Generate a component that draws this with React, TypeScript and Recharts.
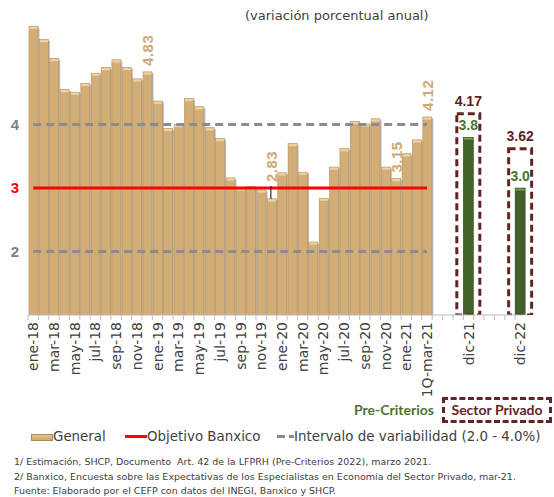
import React from 'react';
import { ComposedChart, Bar, Line, XAxis, YAxis, LabelList } from 'recharts';

// ---------- data ----------
const months = [
  'ene-18', 'feb-18', 'mar-18', 'abr-18', 'may-18', 'jun-18', 'jul-18', 'ago-18', 'sep-18', 'oct-18', 'nov-18', 'dic-18',
  'ene-19', 'feb-19', 'mar-19', 'abr-19', 'may-19', 'jun-19', 'jul-19', 'ago-19', 'sep-19', 'oct-19', 'nov-19', 'dic-19',
  'ene-20', 'feb-20', 'mar-20', 'abr-20', 'may-20', 'jun-20', 'jul-20', 'ago-20', 'sep-20', 'oct-20', 'nov-20', 'dic-20',
  'ene-21', 'feb-21', '1Q-mar-21',
];
const generalValues = [
  5.55, 5.34, 5.04, 4.55, 4.51, 4.65, 4.81, 4.90, 5.02, 4.90, 4.72, 4.83,
  4.37, 3.94, 4.00, 4.41, 4.28, 3.95, 3.78, 3.16, 3.00, 3.02, 2.97, 2.83,
  3.24, 3.70, 3.25, 2.15, 2.84, 3.33, 3.62, 4.05, 4.01, 4.09, 3.33, 3.15,
  3.54, 3.76, 4.12,
];
const labeledMonths = ['dic-18', 'dic-19', 'dic-20', '1Q-mar-21'];
const forecastSlots = ['x1', 'x2', 'x3', 'dic-21', 'x4', 'x5', 'x6', 'x7', 'dic-22'];
const preCriterios: Record<string, number> = { 'dic-21': 3.8, 'dic-22': 3.0 };
const sectorPrivado: Record<string, number> = { 'dic-21': 4.17, 'dic-22': 3.62 };
const objetivoBanxico = 3;
const intervaloSup = 4;
const intervaloInf = 2;
const yTicks = [2, 3, 4];
const tickLabels = [
  'ene-18', 'mar-18', 'may-18', 'jul-18', 'sep-18', 'nov-18',
  'ene-19', 'mar-19', 'may-19', 'jul-19', 'sep-19', 'nov-19',
  'ene-20', 'mar-20', 'may-20', 'jul-20', 'sep-20', 'nov-20',
  'ene-21', '1Q-mar-21', 'dic-21', 'dic-22',
];

const data = [
  ...months.map((m, i) => ({
    cat: m,
    general: generalValues[i],
    gLabel: labeledMonths.includes(m) ? generalValues[i] : null,
    objetivo: objetivoBanxico,
    sup: intervaloSup,
    inf: intervaloInf,
    pc: null as number | null,
    sp: null as number | null,
  })),
  ...forecastSlots.map((s) => ({
    cat: s,
    general: null as number | null,
    gLabel: null as number | null,
    objetivo: null as number | null,
    sup: null as number | null,
    inf: null as number | null,
    pc: preCriterios[s] ?? null,
    sp: sectorPrivado[s] ?? null,
  })),
];

// ---------- layout ----------
const W = 554;
const CHART_H = 400;
const Y_AXIS_W = 28;
const MARGIN_R = 28.5;
const BAND = (W - Y_AXIS_W - MARGIN_R) / data.length;
const TEXT = '#404040';
const TAN = '#D3AD76';
const GREEN = '#42622A';
const MAROON = '#632523';
const FONT = '"DejaVu Sans", sans-serif';
const BOLD = '"Liberation Sans", Arial, sans-serif';

const GeneralShape = (p: any) => {
  const { x, y, width, height } = p;
  if (!height || height <= 0) return null;
  return (
    <g>
      <rect x={x + 1.5} y={y + 1.5} width={width} height={height - 1.5} fill="#A0A0A0" opacity={0.7} />
      <rect x={x} y={y} width={width} height={height} fill={TAN} stroke="#B58F5A" strokeWidth={0.6} />
      <rect x={x + 0.5} y={y + 0.5} width={width - 1} height={2.2} fill="#ECD3A6" />
    </g>
  );
};

const GreenShape = (p: any) => {
  const { x, y, width, height } = p;
  if (!height || height <= 0) return null;
  return (
    <g>
      <rect x={x} y={y} width={width} height={height} fill={GREEN} stroke="#2F4A1C" strokeWidth={0.6} />
      <rect x={x + 0.5} y={y + 0.5} width={width - 1} height={2} fill="#7A9A55" />
    </g>
  );
};

const BoxShape = (p: any) => {
  const { x, y, width, height } = p;
  if (!height || height <= 0) return null;
  const cx = x + width / 2;
  const bw = 23;
  return (
    <rect x={cx - bw / 2} y={y} width={bw} height={height} fill="none" stroke={MAROON} strokeWidth={3} strokeDasharray="7 4" />
  );
};

const GeneralLabel = (p: any) => {
  const { x, y, width, height, value } = p;
  if (value == null) return null;
  const cx = x + width / 2;
  const unit = height / (value - 1);
  const y3 = y + height - (objetivoBanxico - 1) * unit;
  const top = Math.min(y, y3) - 6;
  return (
    <g>
      {y > y3 + 1 && <line x1={cx - 1} x2={cx - 1} y1={y} y2={y3 - 2} stroke="#000" strokeWidth={1} />}
      <text
        x={cx}
        y={top}
        transform={`rotate(-90 ${cx} ${top})`}
        textAnchor="start"
        dy="0.36em"
        fill="#CFA971"
        fontFamily={BOLD}
        fontWeight="bold"
        fontSize={15}
        letterSpacing={0.5}
      >
        {Number(value).toFixed(2)}
      </text>
    </g>
  );
};

const PcLabel = (p: any) => {
  const { x, y, width, value } = p;
  if (value == null) return null;
  return (
    <text x={x + width / 2} y={y - 7} textAnchor="middle" fill="#4B7430" fontFamily={BOLD} fontWeight="bold" fontSize={14}>
      {Number(value).toFixed(1)}
    </text>
  );
};

const SpLabel = (p: any) => {
  const { x, y, width, value } = p;
  if (value == null) return null;
  return (
    <text x={x + width / 2} y={y - 8} textAnchor="middle" fill="#5E1F28" fontFamily={BOLD} fontWeight="bold" fontSize={14}>
      {Number(value).toFixed(2)}
    </text>
  );
};

const XTick = (p: any) => {
  const { x, y, payload } = p;
  const label = payload?.value;
  const show = tickLabels.includes(label);
  return (
    <g>
      <line x1={x - BAND / 2} x2={x - BAND / 2} y1={y} y2={y + 5} stroke="#BFBFBF" strokeWidth={1} />
      {show && (
        <text
          x={x}
          y={y + 7}
          transform={`rotate(-90 ${x} ${y + 7})`}
          textAnchor="end"
          dy="0.36em"
          fill={TEXT}
          fontFamily={FONT}
          fontSize={14}
        >
          {label}
        </text>
      )}
    </g>
  );
};

const YTick = (p: any) => {
  const { y, payload } = p;
  const v = payload?.value;
  return (
    <text x={15} y={y} dy="0.36em" textAnchor="middle" fill={v === 3 ? '#FF0000' : '#808080'} fontFamily={BOLD} fontWeight="bold" fontSize={15}>
      {v}
    </text>
  );
};

const abs = (left: number, top: number, extra: React.CSSProperties = {}): React.CSSProperties => ({
  position: 'absolute',
  left,
  top,
  whiteSpace: 'nowrap',
  ...extra,
});

export default function App() {
  return (
    <div style={{ position: 'absolute', left: 0, top: 0, width: W, height: 497, background: '#fff', overflow: 'hidden' }}>
      <div style={abs(245, 7, { fontFamily: FONT, fontSize: 13, color: TEXT, lineHeight: '18px' })}>
        (variación porcentual anual)
      </div>
      <div style={abs(0, 0)}>
        <ComposedChart width={W} height={CHART_H} data={data} margin={{ top: 23, right: MARGIN_R, bottom: 5, left: 0 }}>
          <XAxis
            xAxisId="main"
            dataKey="cat"
            interval={0}
            height={80}
            tickSize={0}
            tickMargin={0}
            tickLine={false}
            axisLine={{ stroke: '#BFBFBF', strokeWidth: 1 }}
            tick={<XTick />}
          />
          <XAxis xAxisId="pc" dataKey="cat" hide />
          <XAxis xAxisId="sp" dataKey="cat" hide />
          <YAxis
            width={Y_AXIS_W}
            domain={[1, 5.6]}
            allowDataOverflow
            ticks={yTicks}
            axisLine={false}
            tickLine={false}
            tick={<YTick />}
          />
          <Bar xAxisId="main" dataKey="general" barSize={9} shape={<GeneralShape />} isAnimationActive={false}>
            <LabelList dataKey="gLabel" content={<GeneralLabel />} />
          </Bar>
          <Bar xAxisId="pc" dataKey="pc" barSize={10} shape={<GreenShape />} isAnimationActive={false}>
            <LabelList dataKey="pc" content={<PcLabel />} />
          </Bar>
          <Bar xAxisId="sp" dataKey="sp" barSize={10} shape={<BoxShape />} isAnimationActive={false}>
            <LabelList dataKey="sp" content={<SpLabel />} />
          </Bar>
          <Line xAxisId="main" dataKey="sup" stroke="#8C8C8C" strokeWidth={3} strokeDasharray="8 5" dot={false} activeDot={false} isAnimationActive={false} />
          <Line xAxisId="main" dataKey="inf" stroke="#8C8C8C" strokeWidth={3} strokeDasharray="8 5" dot={false} activeDot={false} isAnimationActive={false} />
          <Line xAxisId="main" dataKey="objetivo" stroke="#FF0000" strokeWidth={3} dot={false} activeDot={false} isAnimationActive={false} />
        </ComposedChart>
      </div>

      {/* annotations */}
      <div style={abs(354, 401, { fontFamily: '"Lato", sans-serif', fontWeight: 'bold', fontSize: 14, color: '#4B7430', lineHeight: '18px' })}>
        Pre-Criterios
      </div>
      <div
        style={abs(442, 397, {
          width: 104,
          height: 20,
          border: `3px dashed ${MAROON}`,
          fontFamily: '"Lato", sans-serif',
          fontWeight: 'bold',
          fontSize: 14,
          color: MAROON,
          lineHeight: '20px',
          textAlign: 'center',
        })}
      >
        Sector Privado
      </div>

      {/* legend */}
      <div style={abs(31, 434, { width: 22, height: 7, background: 'linear-gradient(#E8CC9C, #C9A066)', boxShadow: 'inset 0 0 0 1px #B08A55' })} />
      <div style={abs(53, 428, { fontFamily: FONT, fontSize: 13.4, color: TEXT, lineHeight: '18px' })}>General</div>
      <div style={abs(125, 435, { width: 22, height: 3, background: '#FF0000' })} />
      <div style={abs(147, 428, { fontFamily: FONT, fontSize: 13.4, color: TEXT, lineHeight: '18px' })}>Objetivo Banxico</div>
      <div style={abs(277, 435, { width: 8, height: 3, background: '#8C8C8C' })} />
      <div style={abs(289, 435, { width: 5, height: 3, background: '#8C8C8C' })} />
      <div style={abs(294, 428, { fontFamily: FONT, fontSize: 13.4, color: TEXT, lineHeight: '18px' })}>
        Intervalo de variabilidad (2.0 - 4.0%)
      </div>

      {/* footnotes */}
      <div style={abs(14, 455, { fontFamily: FONT, fontSize: 9.5, color: TEXT, lineHeight: '14.5px' })}>
        <div>1/ Estimación, SHCP, Documento&nbsp; Art. 42 de la LFPRH (Pre-Criterios 2022), marzo 2021.</div>
        <div>2/ Banxico, Encuesta sobre las Expectativas de los Especialistas en Economía del Sector Privado, mar-21.</div>
        <div>Fuente: Elaborado por el CEFP con datos del INEGI, Banxico y SHCP.</div>
      </div>
    </div>
  );
}
